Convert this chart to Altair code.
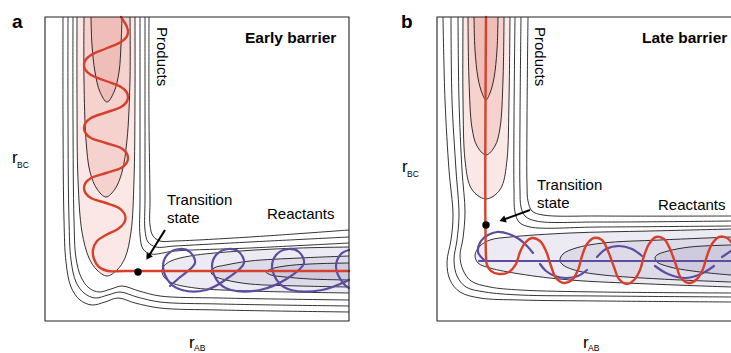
import altair as alt
import pandas as pd

W, H = 731, 353

# ---------------- panel a (early barrier) ----------------
A_PINK_LIGHT = [(77,17),(77,100),(78,180),(82,232),(89,258),(97,270),(107,276),(117,270),(125,258),(131,232),(134,180),(135,100),(135,17)]
A_PINK_MED = [(84,17),(84,80),(86,140),(90,172),(97,189),(106,197),(115,189),(122,172),(127,140),(130,80),(130,17)]
A_PINK_DARK = [(91,17),(92,45),(95,72),(100,92),(107,102),(114,92),(119,72),(121,45),(122,17)]
A_PURP_LIGHT = [(349,247),(300,248),(240,251),(190,256),(171,261),(164,266),(162,271),(164,277),(172,283),(195,288),(250,291),(349,293)]
A_PURP_MED = [(349,256),(300,258),(250,261),(226,265),(214,268),(211,272),(214,276),(226,280),(250,284),(300,286),(349,287)]
A_PURP_DARK = [(349,263),(310,264),(285,266),(271,269),(266,272),(271,275),(285,277),(310,279),(349,280)]
A_LEFT_OUTER = [(63,17),(63,120),(64,220),(66,262),(71,287),(80,300),(92,305),(105,302),(118,298),(135,303),(160,308),(220,310),(349,312)]
A_LEFT_MID = [(68,17),(68,120),(69,220),(71,260),(76,282),(84,293),(95,298),(108,295),(120,292),(137,297),(160,302),(220,304),(349,306)]
A_LEFT_INNER = [(73,17),(73,120),(74,220),(76,258),(81,277),(89,288),(99,292),(111,289),(122,286),(139,291),(160,296),(220,298),(349,300)]
A_RIGHT_INNER = [(140,17),(140,120),(140,200),(140,235),(143,249),(151,254),(175,251),(250,248),(349,243)]
A_RIGHT_MID = [(145,17),(145,120),(145,200),(145,230),(148,242),(156,247),(175,246),(250,242),(349,237)]
A_RIGHT_OUTER = [(149,17),(149,120),(150,200),(150,225),(153,236),(160,241),(175,241),(250,237),(349,230)]
A_RED = [(121,17),(126.5,26),(128,32),(126.5,37),(121,42),(106,48.5),(91,55),(85.5,60),(84,65),(85.5,70),(91,75),
         (106,81),(121,87),(126.5,92),(128,97),(126.5,102),(121,107),(106,112.5),(91,118),(85.5,123),(84,128),
         (85.5,133),(91,138),(106,143),(121,148),(126.5,153),(128,158),(126.5,163),(121,168),(106,173),(91,178),
         (85.5,183),(84,188),(85.5,193),(91,198),(106,203),(119,208),(124,213),(125.5,218),(124,223),(118,229),
         (106,235),(97,241),(93,250),(94,259),(99,267),(108,271),(125,271),(349,271)]
A_HELIX = [(170,286),(179,278),(195,263),(190,252),(180,249),(168,254),(163,267),(170,283),(182,290),(206,290),
           (228,278),(244,263),(239,252),(229,249),(217,254),(212,267),(219,283),(231,290),(260,290),
           (288,278),(304,263),(299,252),(289,249),(277,254),(272,267),(279,283),(291,290),(322,290),(349,280)]
A_HELIX_END = [(349,250),(341,254),(336,267),(343,283),(349,288)]

# ---------------- panel b (late barrier) ----------------
B_PINK_LIGHT = [(463,17),(463,100),(465,160),(470,186),(477,195),(486,199),(495,195),(502,186),(507,160),(509,100),(510,17)]
B_PINK_MED = [(468,17),(469,80),(472,128),(477,146),(486,155),(495,146),(500,128),(503,80),(504,17)]
B_PINK_DARK = [(474,17),(475,50),(478,78),(482,93),(486,100),(490,93),(494,78),(497,50),(498,17)]
B_PURP_LIGHT = [(731,229),(650,231),(570,233),(510,237),(490,240),(480,246),(475,255),(478,263),(490,268),(520,274),(570,280),(650,284),(731,287)]
B_PURP_MED = [(731,237),(660,240),(603,243),(576,248),(563,254),(560,260),(563,265),(578,271),(603,275),(660,279),(731,282)]
B_PURP_DARK = [(731,245),(690,247),(668,251),(657,255),(655,258),(657,262),(670,267),(700,272),(731,275)]
B_LEFT_OUTER = [(443,17),(445,100),(449,170),(453,215),(451,240),(447,262),(450,280),(460,292),(480,298),(520,300),(600,301),(731,302)]
B_LEFT_MID = [(451,17),(452,100),(456,170),(459,215),(457,240),(454,260),(457,276),(466,287),(485,292),(520,295),(600,296),(731,297)]
B_LEFT_INNER = [(458,17),(459,100),(462,170),(465,212),(463,238),(460,256),(463,270),(471,281),(490,287),(520,290),(600,292),(731,293)]
B_RIGHT_INNER = [(515,17),(514,120),(514,190),(515,212),(519,222),(530,227),(600,227),(731,226)]
B_RIGHT_MID = [(521,17),(520,120),(520,190),(521,207),(525,216),(536,221),(600,222),(731,221)]
B_RIGHT_OUTER = [(528,17),(527,120),(527,185),(528,201),(532,211),(543,215),(600,216),(731,216)]
B_RED = [(486,17),(486,256),(487,265),(491,271),(499,274),(509,272),(516,264),(520,252),(525,243),(532,238),(540,241),(546,251),
         (551,266),(556,278),(564,283),(572,280),(578,270),(582,256),(587,244),(594,238),(602,240),(608,251),(614,267),(619,279),
         (627,284),(634,280),(640,270),(644,256),(649,244),(656,237),(664,239),(670,249),(676,265),(681,278),(689,283),(697,279),
         (703,269),(707,256),(712,244),(719,237),(727,238),(731,242)]
B_PURP_AXIS = [(479,261),(731,261)]
B_PURP_1 = [(484,260),(478,252),(481,241),(488,235),(497,232),(509,234),(519,239),(527,246),(533,253)]
B_PURP_2 = [(540,264),(546,271),(555,276),(566,278),(578,276),(587,270)]
B_PURP_3 = [(597,257),(606,249),(619,246),(632,249),(642,256)]
B_PURP_4 = [(655,266),(668,274),(685,278),(701,274),(714,266)]
B_PURP_5 = [(722,257),(731,251)]

# ---------------- annotations ----------------
TS_DOTS = [(138,272),(486,225)]
ARROW_START = [(165,230),(530,210)]
ARROW_HEAD = [(148.1,257.1),(502.5,220.0)]
ARROW_ANGLE = [212, 250]
FRAMES = [(45,17,349,321),(437,17,760,321)]

PANEL_LABELS = ["a","b"]
PANEL_LABEL_POS = [(12,28),(401,28)]
TITLES = ["Early barrier","Late barrier"]
TITLE_POS = [(245,43),(642,43)]
PRODUCTS_POS = [(157,27),(535,27)]
TEXT_15 = ["Transition","state","Reactants","Transition","state","Reactants"]
TEXT_15_POS = [(167,205),(167,223),(267,219),(537,190),(537,208),(658,210)]
R_MAIN = ["r","r","r","r"]
R_MAIN_POS = [(12,163),(402,172),(189,348),(583,348)]
R_SUB = ["BC","BC","AB","AB"]
R_SUB_POS = [(17,168),(407,177),(194,351),(588,351)]

PINK_L, PINK_M, PINK_D = "#fbe8e6", "#f5d2ce", "#efbeb9"
PURP_L, PURP_M, PURP_D = "#ecebf3", "#dedbe9", "#cfcbdf"
RED = "#d6402c"
PURPLE = "#5d4c9f"
FONT = "Liberation Sans"


def table(shapes):
    rows = []
    for sid, pts in shapes.items():
        for i, (x, y) in enumerate(pts):
            rows.append({"id": sid, "o": i, "x": x, "y": y})
    return pd.DataFrame(rows)


X = alt.X("x:Q", scale=alt.Scale(domain=[0, W], nice=False, zero=False), axis=None)
Y = alt.Y("y:Q", scale=alt.Scale(domain=[0, H], nice=False, zero=False, reverse=True), axis=None)


def curve(shapes, **kw):
    return alt.Chart(table(shapes)).mark_line(interpolate="catmull-rom", **kw).encode(
        x=X, y=Y, detail="id:N", order=alt.Order("o:Q"))


layers = []
for color, shapes in [
    (PINK_L, {"a": A_PINK_LIGHT, "b": B_PINK_LIGHT}),
    (PINK_M, {"a": A_PINK_MED, "b": B_PINK_MED}),
    (PINK_D, {"a": A_PINK_DARK, "b": B_PINK_DARK}),
    (PURP_L, {"a": A_PURP_LIGHT, "b": B_PURP_LIGHT}),
    (PURP_M, {"a": A_PURP_MED, "b": B_PURP_MED}),
    (PURP_D, {"a": A_PURP_DARK, "b": B_PURP_DARK}),
]:
    layers.append(curve(shapes, fill=color, stroke="black", strokeWidth=0.8))

layers.append(curve({
    "alo": A_LEFT_OUTER, "alm": A_LEFT_MID, "ali": A_LEFT_INNER,
    "ari": A_RIGHT_INNER, "arm": A_RIGHT_MID, "aro": A_RIGHT_OUTER,
    "blo": B_LEFT_OUTER, "blm": B_LEFT_MID, "bli": B_LEFT_INNER,
    "bri": B_RIGHT_INNER, "brm": B_RIGHT_MID, "bro": B_RIGHT_OUTER,
}, stroke="black", strokeWidth=0.8))

layers.append(curve({
    "ah": A_HELIX, "ah2": A_HELIX_END, "bax": B_PURP_AXIS,
    "b1": B_PURP_1, "b2": B_PURP_2, "b3": B_PURP_3, "b4": B_PURP_4, "b5": B_PURP_5,
}, stroke=PURPLE, strokeWidth=2.2, strokeCap="round"))

layers.append(curve({"ar": A_RED, "br": B_RED}, stroke=RED, strokeWidth=2.4, strokeCap="round"))

arrows = pd.DataFrame({
    "x": [p[0] for p in ARROW_START], "y": [p[1] for p in ARROW_START],
    "x2": [p[0] for p in ARROW_HEAD], "y2": [p[1] for p in ARROW_HEAD],
    "ang": ARROW_ANGLE,
})
layers.append(alt.Chart(arrows).mark_rule(color="black", strokeWidth=2).encode(
    x=X, y=Y, x2="x2:Q", y2="y2:Q"))
layers.append(alt.Chart(arrows).mark_point(shape="triangle-up", filled=True, size=55, color="black", opacity=1).encode(
    x=alt.X("x2:Q", scale=alt.Scale(domain=[0, W], nice=False, zero=False), axis=None),
    y=alt.Y("y2:Q", scale=alt.Scale(domain=[0, H], nice=False, zero=False, reverse=True), axis=None),
    angle=alt.Angle("ang:Q", scale=None)))

dots = pd.DataFrame({"x": [p[0] for p in TS_DOTS], "y": [p[1] for p in TS_DOTS]})
layers.append(alt.Chart(dots).mark_circle(size=55, color="black", opacity=1).encode(x=X, y=Y))

frames = pd.DataFrame({"x": [f[0] for f in FRAMES], "y": [f[1] for f in FRAMES],
                       "x2": [f[2] for f in FRAMES], "y2": [f[3] for f in FRAMES]})
layers.append(alt.Chart(frames).mark_rect(fill="transparent", stroke="#222222", strokeWidth=1.1).encode(
    x=X, y=Y, x2="x2:Q", y2="y2:Q"))


def texts(labels, pos, **kw):
    df = pd.DataFrame({"t": labels, "x": [p[0] for p in pos], "y": [p[1] for p in pos]})
    return alt.Chart(df).mark_text(align="left", baseline="alphabetic", font=FONT, color="black", **kw).encode(
        x=X, y=Y, text="t:N")


layers.append(texts(PANEL_LABELS, PANEL_LABEL_POS, fontSize=19, fontWeight="bold"))
layers.append(texts(TITLES, TITLE_POS, fontSize=15.5, fontWeight="bold"))
layers.append(texts(["Products", "Products"], PRODUCTS_POS, fontSize=15, angle=90))
layers.append(texts(TEXT_15, TEXT_15_POS, fontSize=15))
layers.append(texts(R_MAIN, R_MAIN_POS, fontSize=17))
layers.append(texts(R_SUB, R_SUB_POS, fontSize=8.5))

chart = alt.layer(*layers).properties(
    width=W, height=H, autosize=alt.AutoSizeParams(type="none"), padding=0
).configure_view(stroke=None)

chart.save("out.html", embed_options={"renderer": "svg", "actions": False})
